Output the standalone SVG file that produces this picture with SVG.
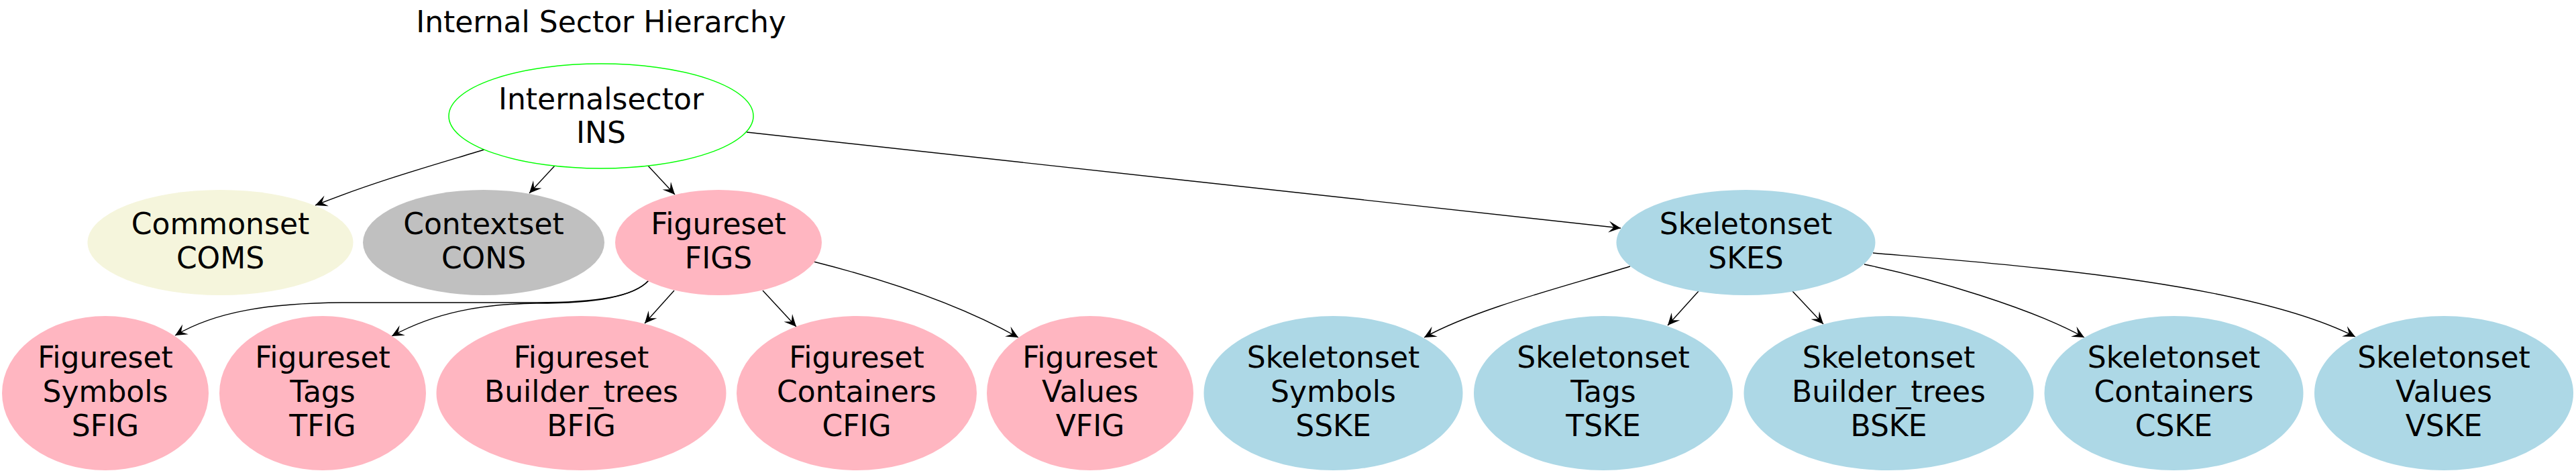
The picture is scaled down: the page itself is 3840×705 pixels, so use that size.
<svg xmlns="http://www.w3.org/2000/svg" width="3840" height="705" viewBox="0 0 3840 705">
<style>
text{font-family:"DejaVu Sans","Noto Sans",sans-serif;font-size:44px;fill:#000;text-anchor:middle}
.e{fill:none;stroke:#000;stroke-width:1.4}
.ins{fill:#fff;stroke:#00ff00;stroke-width:1.5}
.com{fill:#f5f5dc}
.con{fill:#c0c0c0}
.fig{fill:#ffb6c1}
.ske{fill:#add8e6}
</style>
<defs>
<marker id="ah" markerUnits="userSpaceOnUse" markerWidth="22" markerHeight="22" viewBox="-20 -11 22 22" refX="0" refY="0" orient="auto">
<path d="M0,0 L-18,-8.5 L-10.5,0 L-18,8.5 Z" fill="#000"/>
</marker>
</defs>
<rect width="3840" height="705" fill="#fff"/>
<text x="896" y="48">Internal Sector Hierarchy</text>
<g id="connectors">
<path class="e" marker-end="url(#ah)" d="M722,223 C650,245 560,270 470,306"/>
<path class="e" marker-end="url(#ah)" d="M827,247 L789,288"/>
<path class="e" marker-end="url(#ah)" d="M966,247 L1006,290"/>
<path class="e" marker-end="url(#ah)" d="M1113,197 L2416,340"/>
<path class="e" marker-end="url(#ah)" d="M967,418 C945,442 890,451 800,451 L520,451 C400,451 320,465 261,500"/>
<path class="e" marker-end="url(#ah)" d="M967,418 C945,442 890,452 800,452 C720,453 650,465 584,501"/>
<path class="e" marker-end="url(#ah)" d="M1005,433 L961,482"/>
<path class="e" marker-end="url(#ah)" d="M1137,433 L1187,487"/>
<path class="e" marker-end="url(#ah)" d="M1213,390 C1300,412 1420,448 1518,503"/>
<path class="e" marker-end="url(#ah)" d="M2430,397 C2340,425 2200,460 2123,503"/>
<path class="e" marker-end="url(#ah)" d="M2532,434 L2486,485"/>
<path class="e" marker-end="url(#ah)" d="M2672,434 L2718,483"/>
<path class="e" marker-end="url(#ah)" d="M2779,394 C2880,415 3030,460 3107,503"/>
<path class="e" marker-end="url(#ah)" d="M2792,377 C3000,395 3350,420 3511,502"/>
</g>
<g id="INS"><ellipse class="ins" cx="896" cy="173" rx="227" ry="78"/><text x="896" y="162.5">Internalsector</text><text x="896" y="213">INS</text></g>
<g id="COMS"><ellipse class="com" cx="328.5" cy="361.5" rx="198" ry="78.5"/><text x="328.5" y="348.5">Commonset</text><text x="328.5" y="399.5">COMS</text></g>
<g id="CONS"><ellipse class="con" cx="721" cy="361.5" rx="180" ry="78.5"/><text x="721" y="348.5">Contextset</text><text x="721" y="399.5">CONS</text></g>
<g id="FIGS"><ellipse class="fig" cx="1071" cy="361.5" rx="154" ry="78.5"/><text x="1071" y="348.5">Figureset</text><text x="1071" y="399.5">FIGS</text></g>
<g id="SKES"><ellipse class="ske" cx="2602.5" cy="361.5" rx="193" ry="78.5"/><text x="2602.5" y="348.5">Skeletonset</text><text x="2602.5" y="399.5">SKES</text></g>
<g id="SFIG"><ellipse class="fig" cx="157" cy="586" rx="154" ry="115"/><text x="157" y="547.5">Figureset</text><text x="157" y="598.5">Symbols</text><text x="157" y="650">SFIG</text></g>
<g id="TFIG"><ellipse class="fig" cx="481" cy="586" rx="154" ry="115"/><text x="481" y="547.5">Figureset</text><text x="481" y="598.5">Tags</text><text x="481" y="650">TFIG</text></g>
<g id="BFIG"><ellipse class="fig" cx="866.5" cy="586" rx="216" ry="115"/><text x="866.5" y="547.5">Figureset</text><text x="866.5" y="598.5">Builder_trees</text><text x="866.5" y="650">BFIG</text></g>
<g id="CFIG"><ellipse class="fig" cx="1277" cy="586" rx="179" ry="115"/><text x="1277" y="547.5">Figureset</text><text x="1277" y="598.5">Containers</text><text x="1277" y="650">CFIG</text></g>
<g id="VFIG"><ellipse class="fig" cx="1625" cy="586" rx="154" ry="115"/><text x="1625" y="547.5">Figureset</text><text x="1625" y="598.5">Values</text><text x="1625" y="650">VFIG</text></g>
<g id="SSKE"><ellipse class="ske" cx="1987.5" cy="586" rx="193" ry="115"/><text x="1987.5" y="547.5">Skeletonset</text><text x="1987.5" y="598.5">Symbols</text><text x="1987.5" y="650">SSKE</text></g>
<g id="TSKE"><ellipse class="ske" cx="2390" cy="586" rx="193" ry="115"/><text x="2390" y="547.5">Skeletonset</text><text x="2390" y="598.5">Tags</text><text x="2390" y="650">TSKE</text></g>
<g id="BSKE"><ellipse class="ske" cx="2815.5" cy="586" rx="216" ry="115"/><text x="2815.5" y="547.5">Skeletonset</text><text x="2815.5" y="598.5">Builder_trees</text><text x="2815.5" y="650">BSKE</text></g>
<g id="CSKE"><ellipse class="ske" cx="3240.5" cy="586" rx="193" ry="115"/><text x="3240.5" y="547.5">Skeletonset</text><text x="3240.5" y="598.5">Containers</text><text x="3240.5" y="650">CSKE</text></g>
<g id="VSKE"><ellipse class="ske" cx="3643" cy="586" rx="193" ry="115"/><text x="3643" y="547.5">Skeletonset</text><text x="3643" y="598.5">Values</text><text x="3643" y="650">VSKE</text></g>
</svg>
